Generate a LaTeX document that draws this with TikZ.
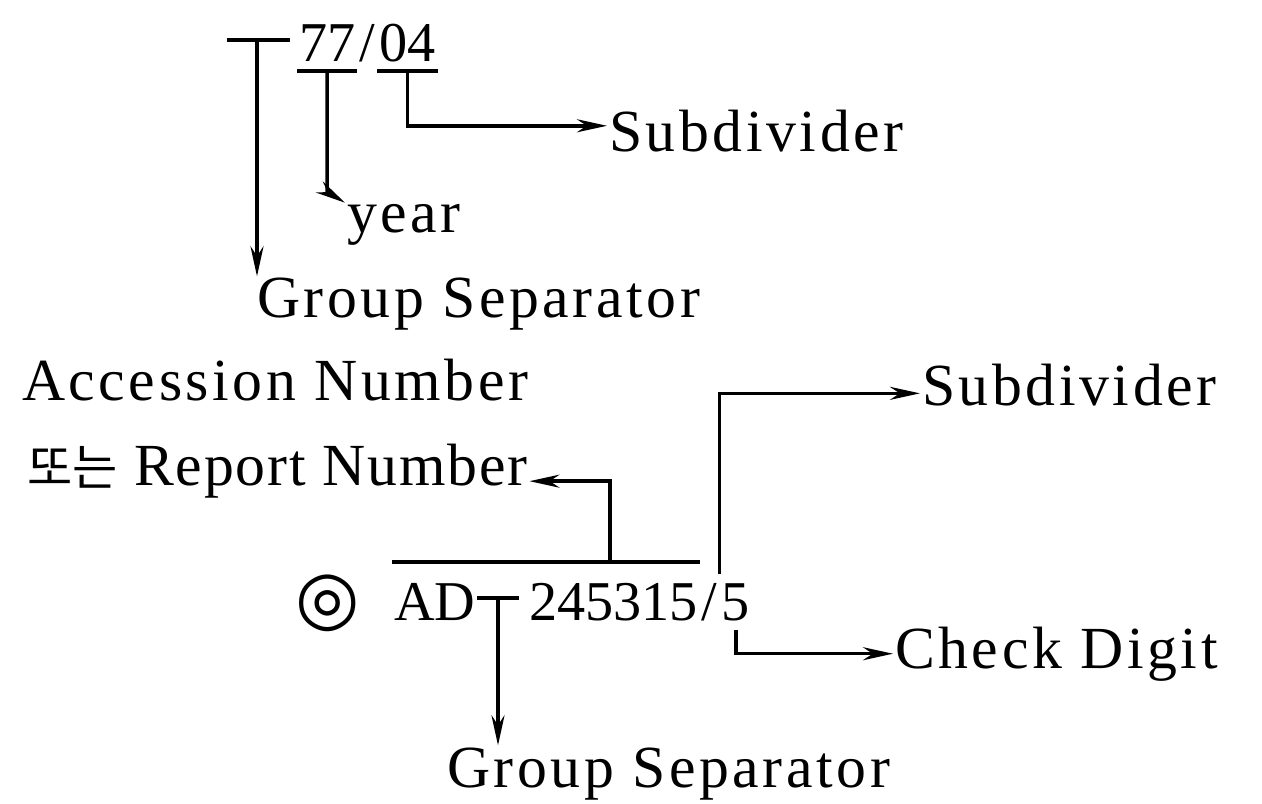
\documentclass[tikz,border=0pt]{standalone}
\usepackage{fontspec}
\setmainfont{Liberation Serif}
\newfontfamily\spaced{Liberation Serif}[LetterSpace=6.0]
\newfontfamily\halfspaced{Liberation Serif}[LetterSpace=3.0]
\newfontfamily\kofont{Noto Sans CJK KR}
\newfontfamily\symfont{DejaVu Sans}
\usetikzlibrary{arrows.meta,positioning}

\begin{document}
\begin{tikzpicture}[x=0.02cm,y=-0.02cm,>={Stealth[length=0.6cm,width=0.26cm]},
  lbl/.style={inner sep=1pt,anchor=base west,font=\spaced\fontsize{34}{40}\selectfont},
  num/.style={inner sep=1pt,anchor=base west,font=\rmfamily\fontsize{32}{40}\selectfont},
  bar/.style={line width=2pt},
  arr/.style={line width=2pt,->}]
  \useasboundingbox (0,0) rectangle (1262,804);

  % top code
  \node[num] (yy) at (297,62) {77};
  \node[num,base right=0pt of yy] (sl1) {/};
  \node[num,base right=0pt of sl1] (nn) {04};
  \coordinate (sep1) at (257,40);
  \node[lbl] (yr) at (345,233) {year};
  \node[lbl] (sub1) at (607,152) {Subdivider};
  \node[lbl] (gsep1) at (255,318) {Group Separator};

  \draw[bar] (sep1) ++(-30,0) -- ++(63,0);
  \draw[arr] (sep1) -- (sep1 |- gsep1.north);
  \draw[bar] ([yshift=-5pt]yy.base west) -- ([yshift=-5pt]yy.base east);
  \draw[bar] ([yshift=-5pt]nn.base west) -- ([yshift=-5pt]nn.base east);
  \draw[arr] ([yshift=-5pt]yy.base) -- ++(0,121) -- (yr.north west);
  \draw[arr] ([yshift=-5pt]nn.base) -- ++(0,55) coordinate (c1) -- (c1 -| sub1.west);

  % report number
  \node[lbl] (acc) at (20,400) {Accession Number};
  \node[inner sep=1pt,anchor=base west,font=\halfspaced\fontsize{34}{40}\selectfont] (rep) at (25,485)
    {{\kofont\fontsize{28}{34}\selectfont 또는} Report Number};
  \node[num] (mark) at (293,622) {{\symfont\fontsize{42}{44}\selectfont ◎}};
  \node[num] (ad) at (392,620) {AD};
  \node[num] (rno) at (527,620) {245315};
  \node[num,base right=0pt of rno] (sl2) {/};
  \node[num,base right=0pt of sl2] (chk) {5};
  \node[lbl] (sub2) at (920,405) {Subdivider};
  \node[lbl] (ck) at (893,668) {Check Digit};
  \node[lbl] (gsep2) at (445,787) {Group Separator};
  \coordinate (ov) at (610,562);
  \coordinate (sep2) at (498,598);
  \coordinate (repin) at ([yshift=-6pt]rep.east);
  \coordinate (subin) at ([yshift=-5pt]sub2.west);

  \draw[bar] ([yshift=1.16cm]ad.base west) -- ([yshift=1.16cm]rno.base east);
  \draw[arr] (ov) -- (ov |- repin) -- (repin);
  \draw[arr] ([yshift=4pt]sl2.north east) -- (sl2.north east |- subin) -- (subin);
  \draw[arr] ([yshift=-4pt]chk.south) -- (chk.south |- ck.west) -- (ck.west);
  \draw[bar] (sep2) ++(-21,0) -- ++(42,0);
  \draw[arr] (sep2) -- (sep2 |- gsep2.north);
\end{tikzpicture}
\end{document}
